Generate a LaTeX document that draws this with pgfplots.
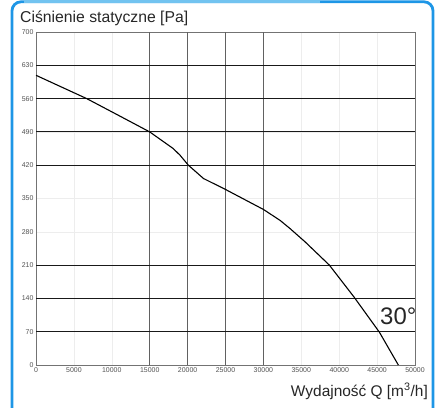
\documentclass[border=0pt]{standalone}
\usepackage{pgfplots}
\pgfplotsset{compat=1.18}
\usepackage{fontspec}
\setmainfont{Liberation Sans}
\definecolor{frameblue}{HTML}{1E96E6}
\definecolor{framelight}{HTML}{72C3F0}
\pgfplotstableread{
x y
0 609
3000 587
6690 560
10500 528
15000 490
18100 455
19000 441
20100 420
22100 392
25000 369
30000 327
32200 304
33500 287
35490 259
38700 210
41950 143
45300 69
47800 0
}\curvedata
\begin{document}
\begin{tikzpicture}[x=1bp,y=1bp]
\path[use as bounding box] (0,0) rectangle (438,407);
\begin{scope}
\clip (0,0) rectangle (438,407);
\draw[frameblue, line width=2.8bp, rounded corners=9bp] (12,-30) -- (12,405.2) -- (433,405.2) -- (433,-30);
\draw[framelight, line width=2.8bp] (24,405.2) -- (320,405.2);
\end{scope}
\begin{axis}[
  at={(36bp,42bp)}, anchor=origin, scale only axis,
  width=379bp, height=333bp,
  xmin=0, xmax=50000, ymin=0, ymax=700,
  scaled ticks=false,
  xtick={0,5000,10000,15000,20000,25000,30000,35000,40000,45000,50000},
  xticklabels={0,5000,10000,15000,20000,25000,30000,35000,40000,45000,50000},
  ytick={0,70,140,210,280,350,420,490,560,630,700},
  yticklabels={0,70,140,210,280,350,420,490,560,630,700},
  major tick length=0,
  grid=major,
  major grid style={color=black!7, line width=0.6bp},
  extra x ticks={15000,20000,25000,30000},
  extra x tick labels={},
  extra x tick style={grid=major, major grid style={color=black!62, line width=1.1bp}},
  extra y ticks={70,140,210,420,490,560,630},
  extra y tick labels={},
  extra y tick style={grid=major, major grid style={color=black!90, line width=1.1bp}},
  axis line style={black!55, line width=0.9bp},
  tick label style={font=\fontsize{7}{8}\selectfont, text=black!68},
  xticklabel style={yshift=0.5bp},
  yticklabel style={xshift=1bp},
  clip=false,
]
\addplot[black, line width=1.1bp, no markers] table[x=x,y=y] {\curvedata};
\end{axis}
\node[anchor=base west, inner sep=0, font=\fontsize{15.8}{18}\selectfont, text=black!85] at (20,385) {Ciśnienie statyczne [Pa]};
\node[anchor=base east, inner sep=0, font=\fontsize{15.5}{18}\selectfont, text=black!85] at (428,11) {Wydajność Q [m\textsuperscript{3}/h]};
\node[anchor=base west, inner sep=0, font=\fontsize{24}{26}\selectfont, text=black!85] at (380,83) {30°};
\end{tikzpicture}
\end{document}
